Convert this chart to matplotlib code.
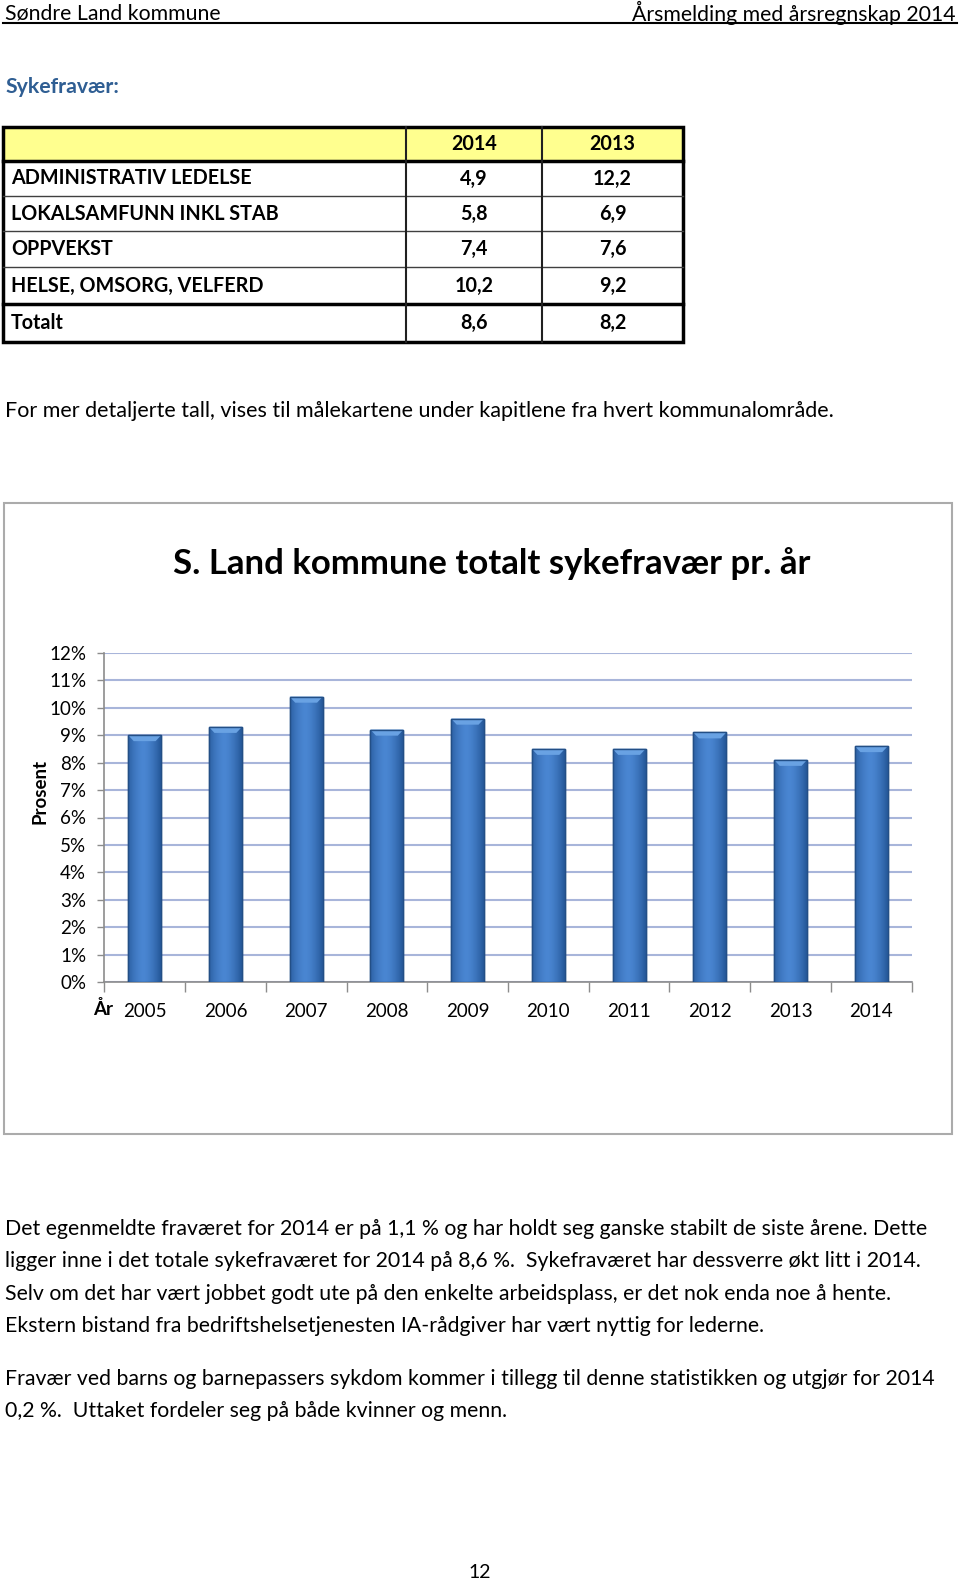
import matplotlib
matplotlib.use("Agg")
import matplotlib.pyplot as plt
import numpy as np
from matplotlib.patches import Rectangle, Polygon
from matplotlib.lines import Line2D
from matplotlib.colors import to_rgb

# --- data ---
years = ["2005", "2006", "2007", "2008", "2009", "2010", "2011", "2012", "2013", "2014"]
sick_leave = [9.0, 9.3, 10.4, 9.2, 9.6, 8.5, 8.5, 9.1, 8.1, 8.6]

table_areas = ["ADMINISTRATIV LEDELSE", "LOKALSAMFUNN INKL STAB", "OPPVEKST",
               "HELSE, OMSORG, VELFERD", "Totalt"]
table_2014 = ["4,9", "5,8", "7,4", "10,2", "8,6"]
table_2013 = ["12,2", "6,9", "7,6", "9,2", "8,2"]

body_lines = [
    "Det egenmeldte fraværet for 2014 er på 1,1 % og har holdt seg ganske stabilt de siste årene. Dette",
    "ligger inne i det totale sykefraværet for 2014 på 8,6 %.  Sykefraværet har dessverre økt litt i 2014.",
    "Selv om det har vært jobbet godt ute på den enkelte arbeidsplass, er det nok enda noe å hente.",
    "Ekstern bistand fra bedriftshelsetjenesten IA-rådgiver har vært nyttig for lederne.",
]
body_lines2 = [
    "Fravær ved barns og barnepassers sykdom kommer i tillegg til denne statistikken og utgjør for 2014",
    "0,2 %.  Uttaket fordeler seg på både kvinner og menn.",
]

W, H = 960, 1584
FONT = "Lato"
plt.rcParams["font.family"] = [FONT, "DejaVu Sans"]

fig = plt.figure(figsize=(W / 100, H / 100), dpi=100)


def fx(x):
    return x / W


def fy(y):
    return 1 - y / H


def text(x, y, s, **kw):
    fig.text(fx(x), fy(y), s, **kw)


def hline(x0, x1, y, lw=1, color="black"):
    fig.add_artist(Line2D([fx(x0), fx(x1)], [fy(y), fy(y)], lw=lw, color=color,
                          transform=fig.transFigure))


def vline(x, y0, y1, lw=1, color="black"):
    fig.add_artist(Line2D([fx(x), fx(x)], [fy(y0), fy(y1)], lw=lw, color=color,
                          transform=fig.transFigure))


# --- page header ---
text(5, 13, "Søndre Land kommune", fontsize=15.3, va="center", ha="left")
text(956, 13, "Årsmelding med årsregnskap 2014", fontsize=15.3, va="center", ha="right")
hline(3, 957, 23, lw=1.5)

text(5, 87, "Sykefravær:", fontsize=15.3, fontweight="bold", color="#2F5E93", va="center")

# --- table ---
col_x = [3, 406, 542, 683]
row_y = [127, 161, 196, 231, 267, 304, 342]
fig.add_artist(Rectangle((fx(col_x[0]), fy(row_y[1])), fx(col_x[3]) - fx(col_x[0]),
                         fy(row_y[0]) - fy(row_y[1]), transform=fig.transFigure,
                         facecolor="#FFFF8F", edgecolor="none"))
for y in row_y[2:-2]:
    hline(col_x[0], col_x[3], y, lw=1, color="#404040")
hline(col_x[0], col_x[3], row_y[1], lw=2.5)
hline(col_x[0], col_x[3], row_y[-2], lw=2.5)
for x in col_x[1:3]:
    vline(x, row_y[0], row_y[-1], lw=1.5, color="#202020")
fig.add_artist(Rectangle((fx(col_x[0]), fy(row_y[-1])), fx(col_x[3]) - fx(col_x[0]),
                         fy(row_y[0]) - fy(row_y[-1]), transform=fig.transFigure,
                         facecolor="none", edgecolor="black", lw=2.5))
c1 = (col_x[1] + col_x[2]) / 2
c2 = (col_x[2] + col_x[3]) / 2
text(c1, (row_y[0] + row_y[1]) / 2, "2014", fontsize=14.2, fontweight="bold", ha="center", va="center")
text(c2, (row_y[0] + row_y[1]) / 2, "2013", fontsize=14.2, fontweight="bold", ha="center", va="center")
for i, name in enumerate(table_areas):
    yc = (row_y[i + 1] + row_y[i + 2]) / 2
    text(11, yc, name, fontsize=14.2, fontweight="bold", va="center")
    text(c1, yc, table_2014[i], fontsize=14.2, fontweight="bold", ha="center", va="center")
    text(c2, yc, table_2013[i], fontsize=14.2, fontweight="bold", ha="center", va="center")

text(5, 411, "For mer detaljerte tall, vises til målekartene under kapitlene fra hvert kommunalområde.",
     fontsize=15.5, va="center")

# --- chart frame ---
frame = Rectangle((fx(4), fy(1134)), fx(952) - fx(4), fy(503) - fy(1134),
                  transform=fig.transFigure, facecolor="white", edgecolor="#ABABAB", lw=1.5,
                  zorder=-1)
fig.add_artist(frame)
text(492, 564, "S. Land kommune totalt sykefravær pr. år", fontsize=25, fontweight="bold",
     ha="center", va="center")

ax_l, ax_r, ax_b, ax_t = 104.3, 911.7, 982.3, 652.7
ax = fig.add_axes([fx(ax_l), fy(ax_b), fx(ax_r) - fx(ax_l), fy(ax_t) - fy(ax_b)])
ax.set_zorder(2)
ax.set_facecolor("none")
x = np.arange(len(years))
bw = 0.41
bars = ax.bar(x, sick_leave, width=bw, color="#3A72BA", edgecolor="#234F86", lw=1.0, zorder=3)

# horizontal shading inside each bar
dark = np.array(to_rgb("#275A9C"))
light = np.array(to_rgb("#4A86D2"))
t = np.linspace(-1, 1, 64)
w = np.clip(1 - np.abs(t + 0.1) ** 1.6, 0, 1)
grad = dark[None, :] + (light - dark)[None, :] * w[:, None]
grad = grad[None, :, :]
for b in bars:
    x0, h = b.get_x(), b.get_height()
    im = ax.imshow(grad, extent=(x0, x0 + bw, 0, h), aspect="auto", zorder=3.5,
                   interpolation="bilinear")
    im.set_clip_path(b)
    bev = 0.22
    inset = 0.07
    ax.add_patch(Polygon([(x0, h), (x0 + bw, h), (x0 + bw - inset, h - bev), (x0 + inset, h - bev)],
                         closed=True, facecolor="#69A2E3", edgecolor="none", zorder=3.6))
    ax.add_patch(Rectangle((x0, 0), bw, h, facecolor="none", edgecolor="#234F86", lw=1.0, zorder=3.7))

ax.set_xlim(-0.5, len(years) - 0.5)
ax.set_ylim(0, 12)
ax.set_yticks(range(0, 13))
ax.set_yticklabels([f"{v}%" for v in range(0, 13)])
ax.set_xticks(x)
ax.set_xticklabels(years)
ax.set_xticks(np.arange(-0.5, len(years)), minor=True)
ax.tick_params(axis="x", which="major", length=0, labelsize=13.5, pad=15, colors="black")
ax.tick_params(axis="x", which="minor", length=7, width=1, color="#8C8C8C", direction="out")
ax.tick_params(axis="y", length=5, width=1, color="#8C8C8C", labelsize=13.5, pad=8)
ax.grid(axis="y", color="#A8B5DA", lw=1.5, zorder=1)
ax.set_axisbelow(True)
for s in ["top", "right"]:
    ax.spines[s].set_visible(False)
for s in ["left", "bottom"]:
    ax.spines[s].set_color("#8C8C8C")
    ax.spines[s].set_linewidth(1.2)

text(103, 1009, "År", fontsize=13.5, fontweight="bold", ha="center", va="center")
text(40, 791, "Prosent", fontsize=13.5, fontweight="bold", rotation=90, ha="center", va="center")

# --- body text ---
for i, line in enumerate(body_lines):
    text(5, 1229 + i * 32.3, line, fontsize=15.3, va="center")
for i, line in enumerate(body_lines2):
    text(5, 1379 + i * 32.3, line, fontsize=15.3, va="center")

text(480, 1573, "12", fontsize=14, ha="center", va="center")

fig.savefig("out.png", dpi=100)
